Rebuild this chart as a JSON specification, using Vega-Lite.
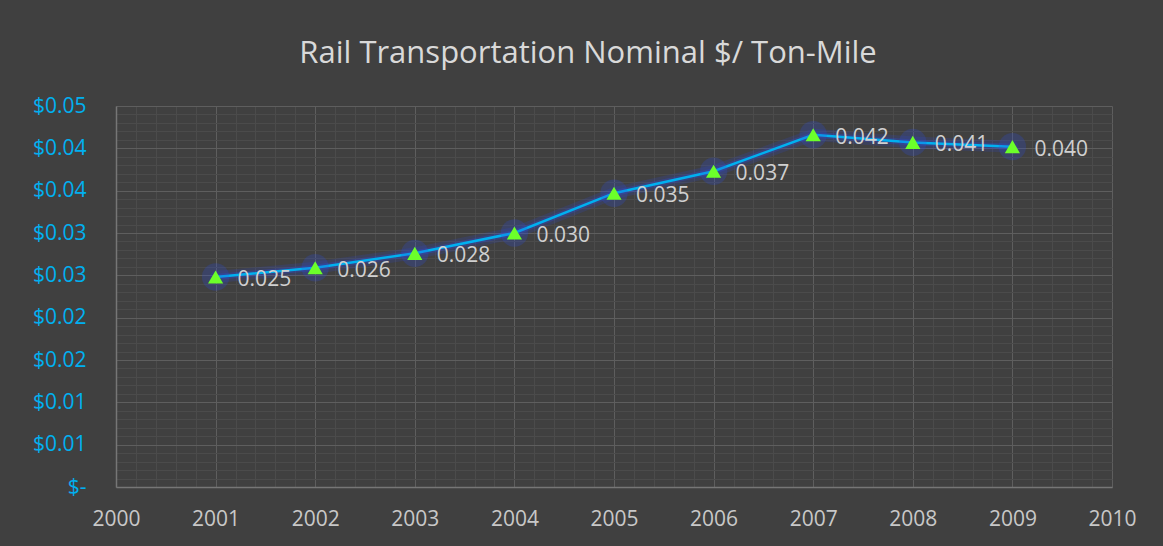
{
  "$schema": "https://vega.github.io/schema/vega-lite/v6.json",
  "autosize": "none",
  "width": 996,
  "height": 381,
  "padding": {"left": 116, "top": 106, "right": 51, "bottom": 59},
  "background": "#404040",
  "config": {
    "view": {"stroke": null},
    "font": "Open Sans"
  },
  "title": {
    "text": "Rail Transportation Nominal $/ Ton-Mile",
    "font": "Open Sans",
    "fontSize": 31,
    "fontWeight": "normal",
    "color": "#d9d9d9",
    "anchor": "middle",
    "baseline": "alphabetic",
    "dx": -26,
    "offset": 1
  },
  "data": {
    "values": [
      {"year": 2001, "value": 0.0248},
      {"year": 2002, "value": 0.0259},
      {"year": 2003, "value": 0.0276},
      {"year": 2004, "value": 0.0300},
      {"year": 2005, "value": 0.0347},
      {"year": 2006, "value": 0.0373},
      {"year": 2007, "value": 0.0416},
      {"year": 2008, "value": 0.0407},
      {"year": 2009, "value": 0.0402}
    ]
  },
  "encoding": {
    "x": {
      "field": "year",
      "type": "quantitative",
      "scale": {"domain": [2000, 2010], "nice": false, "zero": false},
      "axis": {
        "title": null,
        "values": [2000, 2000.2, 2000.4, 2000.6, 2000.8, 2001, 2001.2, 2001.4, 2001.6, 2001.8, 2002, 2002.2, 2002.4, 2002.6, 2002.8, 2003, 2003.2, 2003.4, 2003.6, 2003.8, 2004, 2004.2, 2004.4, 2004.6, 2004.8, 2005, 2005.2, 2005.4, 2005.6, 2005.8, 2006, 2006.2, 2006.4, 2006.6, 2006.8, 2007, 2007.2, 2007.4, 2007.6, 2007.8, 2008, 2008.2, 2008.4, 2008.6, 2008.8, 2009, 2009.2, 2009.4, 2009.6, 2009.8, 2010],
        "labelExpr": "abs(datum.value - round(datum.value)) < 1e-6 ? format(datum.value, 'd') : ''",
        "grid": true,
        "gridColor": {"condition": {"test": "abs(datum.value - round(datum.value)) < 1e-6", "value": "#5e5e5e"}, "value": "#4b4b4b"},
        "gridWidth": 1,
        "ticks": false,
        "domain": true,
        "domainColor": "#767676",
        "domainWidth": 1.5,
        "labelFont": "Open Sans",
        "labelFontSize": 21,
        "labelColor": "#c8c8c8",
        "labelPadding": 21,
        "labelOverlap": false,
        "labelFlush": false,
        "labelBaseline": "top"
      }
    },
    "y": {
      "field": "value",
      "type": "quantitative",
      "scale": {"domain": [0, 0.045], "nice": false, "zero": true},
      "axis": {
        "title": null,
        "values": [0, 0.001, 0.002, 0.003, 0.004, 0.005, 0.006, 0.007, 0.008, 0.009, 0.01, 0.011, 0.012, 0.013, 0.014, 0.015, 0.016, 0.017, 0.018, 0.019, 0.02, 0.021, 0.022, 0.023, 0.024, 0.025, 0.026, 0.027, 0.028, 0.029, 0.03, 0.031, 0.032, 0.033, 0.034, 0.035, 0.036, 0.037, 0.038, 0.039, 0.04, 0.041, 0.042, 0.043, 0.044, 0.045],
        "labelExpr": "datum.value == 0 ? '$-\u00a0\u00a0' : (abs(datum.value * 200 - round(datum.value * 200)) < 1e-6 ? '$' + format(datum.value + 0.0001, '.2f') : '')",
        "grid": true,
        "gridColor": {"condition": {"test": "abs(datum.value * 200 - round(datum.value * 200)) < 1e-6", "value": "#5e5e5e"}, "value": "#4b4b4b"},
        "gridWidth": 1,
        "ticks": false,
        "domain": true,
        "domainColor": "#767676",
        "domainWidth": 1.5,
        "labelFont": "Open Sans",
        "labelFontSize": 21,
        "labelColor": "#00b0f0",
        "labelPadding": 30,
        "labelAlign": "right",
        "labelBaseline": "middle",
        "labelOverlap": false,
        "labelFlush": false
      }
    }
  },
  "layer": [
    {"mark": {"type": "line", "color": "#2d4ad8", "opacity": 0.18, "strokeWidth": 12, "strokeCap": "round", "strokeJoin": "round"}},
    {"mark": {"type": "line", "color": "#2d4ad8", "opacity": 0.3, "strokeWidth": 6, "strokeCap": "round", "strokeJoin": "round"}},
    {"mark": {"type": "line", "color": "#00b0f0", "strokeWidth": 2.5}},
    {"mark": {"type": "point", "shape": "circle", "filled": true, "color": "#2d4ad8", "opacity": 0.25, "size": 750}},
    {"mark": {"type": "point", "shape": "triangle-up", "filled": true, "color": "#6cff2a", "opacity": 1, "size": 230}},
    {
      "mark": {"type": "text", "align": "left", "baseline": "middle", "dx": 22, "dy": 3, "font": "Open Sans", "fontSize": 21, "color": "#d0d0d0"},
      "encoding": {"text": {"field": "value", "type": "quantitative", "format": ".3f"}}
    }
  ]
}
